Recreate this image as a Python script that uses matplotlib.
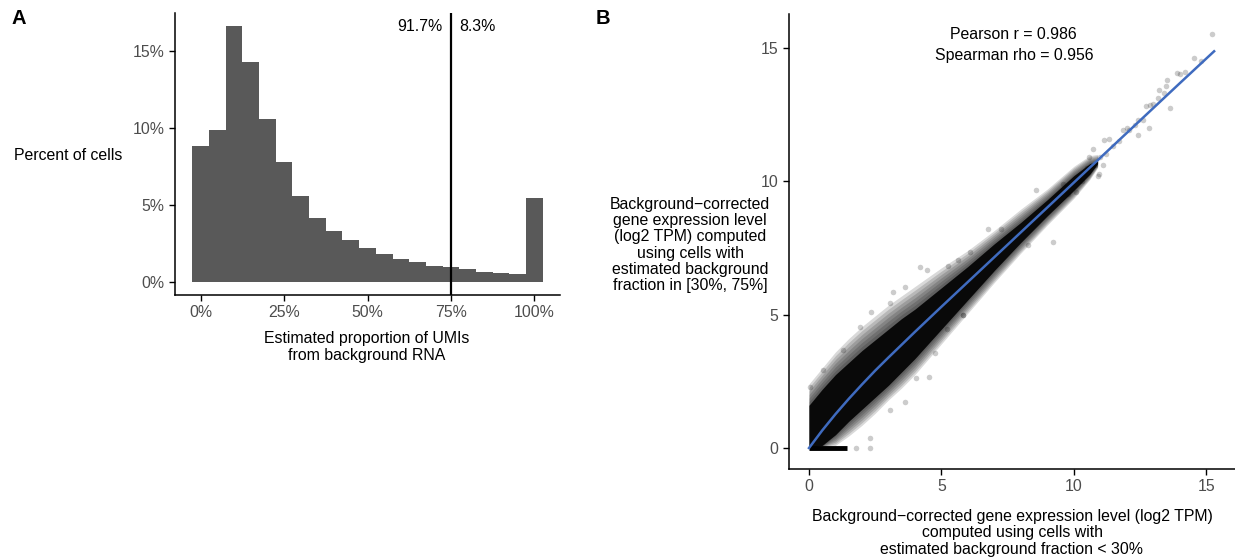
import matplotlib
matplotlib.use("Agg")
import matplotlib.pyplot as plt
import numpy as np

plt.rcParams['font.family'] = ['Liberation Sans', 'DejaVu Sans']

# ---------------- Panel A data: histogram of background fraction ----------------
bin_left = [-2.5, 2.5, 7.5, 12.5, 17.5, 22.5, 27.5, 32.5, 37.5, 42.5, 47.5,
            52.5, 57.5, 62.5, 67.5, 72.5, 77.5, 82.5, 87.5, 92.5, 97.5]
pct_cells = [8.80, 9.84, 16.63, 14.28, 10.56, 7.75, 5.55, 4.14, 3.29, 2.70, 2.18,
             1.81, 1.50, 1.28, 1.05, 0.96, 0.83, 0.63, 0.54, 0.48, 5.46]
cutoff = 75
share_below = "91.7%"
share_above = "8.3%"

# ---------------- Panel B data: expression comparison ----------------
# smooth fit
fit_x = [0, 0.5, 1, 1.5, 2, 2.5, 3, 3.5, 4, 5, 6, 7, 8, 9, 10, 11, 12, 13, 14, 15.3]
fit_y = [0, 0.66, 1.27, 1.84, 2.38, 2.9, 3.39, 3.87, 4.35, 5.29, 6.22, 7.15, 8.08,
         9.01, 9.94, 10.87, 11.8, 12.73, 13.66, 14.86]

# envelope of the dense point cloud (dark core and lighter halo)
env_x   = [0.0, 0.5, 1.0, 1.5, 2.0, 2.5, 3.0, 3.5, 4.0, 5.0, 6.0, 7.0, 8.0, 9.0, 10.0, 10.6, 10.9]
core_lo = [0.0, 0.1, 0.5, 1.0, 1.45, 1.9, 2.35, 2.85, 3.35, 4.45, 5.55, 6.65, 7.7, 8.7, 9.65, 10.25, 10.65]
core_hi = [1.6, 2.2, 2.75, 3.2, 3.65, 4.05, 4.45, 4.85, 5.2, 6.0, 6.8, 7.65, 8.45, 9.3, 10.2, 10.65, 10.75]
halo_lo = [0.0, 0.0, 0.1, 0.45, 0.85, 1.3, 1.8, 2.25, 2.75, 3.9, 5.05, 6.2, 7.3, 8.35, 9.35, 10.05, 10.5]
halo_hi = [2.4, 3.0, 3.6, 4.1, 4.55, 4.95, 5.35, 5.7, 6.05, 6.75, 7.4, 8.15, 8.95, 9.7, 10.55, 10.95, 11.0]

# genes with zero expression in the high-background cells
zero_row_x = [0.0, 1.45]

# isolated points outside the dense cloud
out_x = [15.23, 14.53, 13.91, 14.03, 13.52, 13.48, 13.20, 13.17, 13.65, 12.87, 12.74,
         12.43, 12.84, 12.44, 11.86, 12.01, 11.13, 11.33, 10.73, 10.95, 10.58,
         8.59, 9.20, 6.75, 7.27, 4.21, 4.44, 3.61, 5.26, 5.63, 8.28, 5.80,
         3.18, 2.35, 3.06, 1.92, 1.30, 0.54, 4.54, 4.03, 3.62, 3.06, 2.30,
         2.30, 1.77, 4.75, 5.20, 5.82, 6.08, 0.04,
         10.2, 10.4, 10.5, 10.8, 11.0, 11.2, 11.5, 11.7, 12.1, 12.3, 12.6,
         13.0, 13.4, 14.2, 14.8, 10.3, 10.1, 9.8, 9.6, 11.1, 10.9]
out_y = [15.49, 14.60, 14.03, 14.01, 13.78, 13.56, 13.42, 13.10, 12.75, 12.85, 12.81,
         12.28, 11.97, 11.72, 11.91, 11.97, 11.54, 11.56, 11.19, 10.25, 10.89,
         9.66, 7.73, 8.19, 8.20, 6.79, 6.67, 6.04, 6.82, 7.04, 7.60, 4.98,
         5.85, 5.10, 5.42, 4.52, 3.67, 2.92, 2.65, 2.61, 1.73, 1.42, 0.36,
         0.0, 0.01, 3.55, 4.45, 4.98, 7.35, 2.30,
         10.1, 10.3, 10.5, 10.6, 10.9, 11.0, 11.3, 11.5, 11.9, 12.1, 12.3,
         12.9, 13.3, 14.1, 14.5, 10.0, 9.6, 9.5, 9.9, 10.6, 10.2]

pearson = 0.986
spearman = 0.956

W, H = 1235, 560
fig = plt.figure(figsize=(W / 100, H / 100), dpi=100)

tick_col = '#4d4d4d'
fs = 11.4


def style_axes(ax):
    for s in ['top', 'right']:
        ax.spines[s].set_visible(False)
    for s in ['left', 'bottom']:
        ax.spines[s].set_linewidth(1.1)
    ax.tick_params(length=4.5, width=1.0, color='black', labelcolor=tick_col,
                   labelsize=fs, pad=3)


# ==========================================
# Panel A
# ==========================================
axA = fig.add_axes([174.8 / W, (H - 294.5) / H, (560.2 - 174.8) / W, (294.5 - 12.8) / H])
axA.bar(bin_left, pct_cells, width=5, align='edge', color='#595959', linewidth=0)
axA.axvline(cutoff, color='black', linewidth=1.6)
axA.annotate(share_below, (cutoff, 16.6), xytext=(-6, 0), textcoords='offset points',
             ha='right', va='center', fontsize=fs)
axA.annotate(share_above, (cutoff, 16.6), xytext=(6, 0), textcoords='offset points',
             ha='left', va='center', fontsize=fs)
axA.set_xlim(-7.75, 107.75)
axA.set_ylim(-0.83, 17.46)
axA.set_xticks([0, 25, 50, 75, 100])
axA.set_xticklabels(['0%', '25%', '50%', '75%', '100%'])
axA.set_yticks([0, 5, 10, 15])
axA.set_yticklabels(['0%', '5%', '10%', '15%'])
style_axes(axA)

fig.text(68 / W, (H - 155) / H, 'Percent of cells', ha='center', va='center', fontsize=fs)
fig.text(367 / W, (H - 347) / H, 'Estimated proportion of UMIs\nfrom background RNA',
         ha='center', va='center', fontsize=fs, linespacing=1.1)
fig.text(12 / W, (H - 18) / H, 'A', ha='left', va='center', fontsize=14.5, fontweight='bold')

# ==========================================
# Panel B
# ==========================================
axB = fig.add_axes([788.6 / W, (H - 468.6) / H, (1234.5 - 788.6) / W, (468.6 - 13.9) / H])

# soft halo: several thin layers between the halo edge and the dark core
core_lo_a, core_hi_a = np.array(core_lo), np.array(core_hi)
halo_lo_a, halo_hi_a = np.array(halo_lo), np.array(halo_hi)
for t in np.linspace(0, 1, 7):
    lo = halo_lo_a + t * (core_lo_a - halo_lo_a)
    hi = halo_hi_a + t * (core_hi_a - halo_hi_a)
    axB.fill_between(env_x, lo, hi, color='black', alpha=0.15, linewidth=0)
axB.fill_between(env_x, core_lo, core_hi, color='black', alpha=0.88, linewidth=0)
axB.plot(zero_row_x, [0, 0], color='black', linewidth=3.5, solid_capstyle='butt')
axB.scatter(out_x, out_y, s=16, color='black', alpha=0.2, linewidths=0)
axB.plot(fit_x, fit_y, color='#3f6bbf', linewidth=1.8)
axB.text(0.505, 0.972, f'Pearson r = {pearson}\nSpearman rho = {spearman}',
         transform=axB.transAxes, ha='center', va='top', fontsize=fs, linespacing=1.55)
axB.set_xlim(-0.77, 16.07)
axB.set_ylim(-0.77, 16.26)
axB.set_xticks([0, 5, 10, 15])
axB.set_yticks([0, 5, 10, 15])
style_axes(axB)

fig.text(690 / W, (H - 245) / H,
         'Background\u2212corrected\ngene expression level\n(log2 TPM) computed\n'
         'using cells with\nestimated background\nfraction in [30%, 75%]',
         ha='center', va='center', fontsize=fs, linespacing=1.1)
fig.text(1012 / W, (H - 533) / H,
         'Background\u2212corrected gene expression level (log2 TPM)\n'
         'computed using cells with\nestimated background fraction < 30%',
         ha='center', va='center', fontsize=fs, linespacing=1.1)
fig.text(596 / W, (H - 18) / H, 'B', ha='left', va='center', fontsize=14.5, fontweight='bold')

fig.savefig('out.png', dpi=100)
